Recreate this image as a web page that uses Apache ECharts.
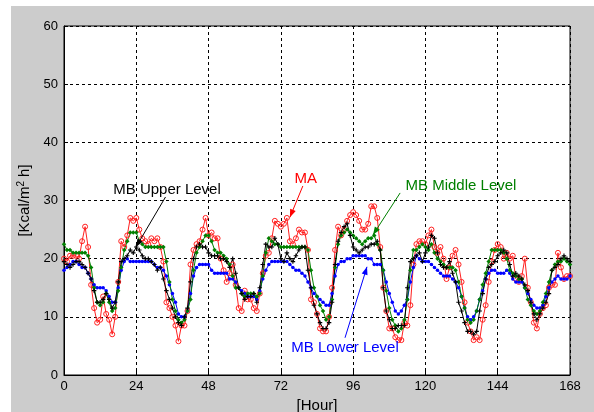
<!DOCTYPE html>
<html>
<head>
<meta charset="utf-8">
<script src="https://cdn.jsdelivr.net/npm/echarts@6/dist/echarts.min.js"></script>
<style>
  html, body { margin: 0; padding: 0; background: #fff; }
  #chart { width: 594px; height: 412px; }
</style>
</head>
<body>
<div id="chart"></div>
<script>
// Hourly heat flux over one week, one value per hour (0..168)
const hours = Array.from({ length: 169 }, (_, i) => i);
const xTicks = [0, 24, 48, 72, 96, 120, 144, 168];
const yTicks = [0, 10, 20, 30, 40, 50, 60];

const maValues = [
  20, 19.5, 20.5, 20.5, 20.5, 20, 23, 25.5, 22, 15.5,
  11.5, 9, 9.5, 13.5, 10.5, 9.5, 7, 10, 16, 23,
  22, 24, 27, 26.5, 27, 25, 23.5, 23, 22.5, 23.5,
  23, 23.5, 22, 19.5, 12.5, 11.5, 10, 8.5, 5.8, 8.5,
  8.5, 11, 19, 21.5, 22.5, 23, 25, 27, 24, 24.5,
  23.5, 23.5, 20, 18, 16, 17.5, 19, 15.5, 11.5, 11,
  14.5, 13, 13, 11.5, 11, 14, 17.5, 20.5, 21, 23.5,
  26.5, 26, 25.5, 26, 27, 23, 22.5, 23.5, 25, 24.5,
  24.5, 21.5, 13, 12.5, 10.5, 8, 7.5, 7.5, 10, 15,
  21.5, 25.5, 24, 25, 26.5, 27.5, 28, 27.5, 26.5, 25,
  25, 26, 29, 29, 27, 22, 15, 11, 8, 8,
  6.5, 6, 6, 9, 8.5, 12, 19, 22.5, 23, 23,
  22.5, 24, 25, 22, 21, 22, 20, 16.5, 18.5, 20.5,
  21.5, 19, 16, 12.5, 9, 7.5, 6, 6.5, 6, 9.5,
  12, 16, 19.5, 21.5, 22.5, 22, 20, 21, 20, 20.5,
  16.5, 16, 17, 20, 15, 12.5, 9, 8, 10.5, 11.5,
  12, 15, 15.5, 15.5, 21, 18.5, 16.5, 17, 17
];

const upperValues = [
  19.5, 19, 18.5, 19, 19.5, 19.5, 19, 18.5, 17.5, 16.5,
  14.5, 12.5, 12.5, 13, 14, 13, 11.5, 12.5, 16, 19.5,
  20, 20.5, 21.5, 21, 22, 21.5, 20.5, 20, 20, 19.5,
  19, 18, 18.5, 16.5, 14.5, 13, 11.5, 10, 9, 8.5,
  10, 11.5, 16, 20, 22, 22.5, 22, 22, 21, 20.5,
  20.5, 20.5, 20, 20, 19.5, 18.5, 20, 17.5, 15, 14,
  13, 13.5, 13.5, 14, 12.5, 15, 19, 22.5, 22, 22,
  23.5, 22.5, 20, 19.5, 21, 20, 19.5, 20.5, 21.5, 22,
  22, 18, 15, 12, 10.5, 9, 8, 8, 9, 12.5,
  19, 23, 24.5, 25.5, 26, 24, 22, 21.5, 21, 21.5,
  22, 22, 22.5, 22.5, 23, 21.5, 15, 11, 9.5, 8,
  8, 8.5, 8.5, 8.5, 15, 19.5, 20, 20.5, 21, 19.5,
  21, 22, 24, 23.5, 21, 19, 18.5, 18.5, 19.5, 17.5,
  16, 12.5, 11, 9, 7.5, 7.5, 7, 7.5, 11, 14,
  16.5, 18.5, 19, 19.5, 20.5, 21, 21.5, 21, 19, 17,
  17.5, 17, 16.5, 15.5, 14.5, 12.5, 10.5, 9.5, 10.5, 11.5,
  12.5, 14, 18, 18.5, 19, 20, 20.5, 20, 19.5
];

const middleValues = [
  22.5, 21.5, 21.5, 21, 21, 21, 21, 21, 20.5, 18.5,
  15, 12.5, 12, 12.5, 14, 12.5, 11, 11.5, 14.5, 18.5,
  21.5, 23, 24.5, 24.5, 24.5, 23, 22.5, 22, 22, 22,
  22, 22, 22, 22, 19.5, 16, 13, 11, 9.5, 9,
  9.5, 11, 13, 18, 21, 22, 23, 24, 24, 23,
  21.5, 21, 21, 20.5, 20, 19, 17, 15, 15, 14,
  13.5, 14, 14, 14, 13.5, 14, 17, 21, 23.5, 23,
  22.5, 22.5, 22, 22, 22, 22, 22, 22, 22, 22,
  22, 21.5, 18, 15, 13.5, 12, 11, 9.5, 10, 13,
  18.5, 22.5, 24, 24.5, 25, 24.5, 24, 23.5, 23, 22.5,
  23, 23.5, 23.5, 24, 22.5, 21.5, 18, 14.5, 11.5, 9.5,
  8.5, 7.5, 8, 9.5, 13, 18, 21.5, 21.5, 22, 22.5,
  22, 21.5, 22.5, 21, 20, 19.5, 19, 18.5, 18.5, 18.5,
  18, 16, 13.5, 11.5, 9.5, 9, 9.5, 11, 13, 15.5,
  17.5, 19.5, 21.5, 21.5, 21.5, 21.5, 21, 20, 18, 17.5,
  17, 16.5, 16.5, 15, 13, 12, 11, 10.5, 11, 12.5,
  14, 16, 18, 19, 19.5, 19.5, 20, 19.5, 19
];

const lowerValues = [
  18, 18.5, 19, 19.5, 19.5, 19, 18.5, 18.5, 17.5, 16.5,
  15.5, 15, 15, 15, 14.5, 13.5, 12.5, 12.5, 15, 18,
  19.5, 20, 19.5, 19.5, 19.5, 19.5, 19.5, 19.5, 19.5, 19.5,
  19, 18.5, 18.5, 18, 17, 15.5, 14, 12.5, 10.5, 10,
  10, 11, 14, 17, 18.5, 19, 19, 19, 19, 18,
  17.5, 17.5, 17.5, 17.5, 17.5, 16.5, 16.5, 16, 15, 14.5,
  14, 13.5, 13.5, 13.5, 13, 14.5, 16.5, 18, 19, 19.5,
  19.5, 19.5, 19.5, 19.5, 19.5, 19, 18.5, 18, 18, 17.5,
  17, 16, 15, 14, 13.5, 13, 12.5, 12, 12, 14,
  17, 19, 19.5, 19.5, 20, 20, 20.5, 20.5, 20.5, 20.5,
  20.5, 20, 20, 19, 19, 19, 18, 16, 14, 12.5,
  11, 10.5, 11, 12, 13, 16, 18.5, 20.5, 20, 19.5,
  19.5, 19.5, 19, 18.5, 18, 17.5, 17, 17, 17, 16.5,
  16, 15, 13.5, 11.5, 10, 9.5, 10, 11, 13, 14.5,
  16.5, 17.5, 18, 18, 17.5, 17.5, 17.5, 18, 17.5, 16.5,
  16, 16, 16, 15, 14, 13, 12, 11.5, 11.5, 12,
  13.5, 15, 16, 16.5, 17, 16.5, 16.5, 16.5, 17
];

// Labels with arrows, placed in data coordinates: [text, colour, textX, textY, tailX, tailY, headX, headY]
const notes = [
  ['MB Upper Level', '#000000', 34.2, 31.8, 33.7, 30.6, 23.9, 22.0],
  ['MA', '#ff0000', 80.3, 33.8, 79.3, 32.5, 75.0, 27.1],
  ['MB Middle Level', '#008000', 131.8, 32.5, 111.6, 31.3, 102.6, 24.1],
  ['MB Lower Level', '#0000ff', 93.3, 4.6, 93.3, 6.4, 100.6, 18.6]
];

const FONT = '"Liberation Sans", Arial, sans-serif';
const pairs = vals => hours.map((h, i) => [h, vals[i]]);

const chart = echarts.init(document.getElementById('chart'), null, { renderer: 'canvas' });

function lineSeries(name, vals, color, symbol, size, hollow) {
  return {
    name, type: 'line', data: pairs(vals),
    symbol, symbolSize: size, showSymbol: true, showAllSymbol: true,
    lineStyle: { color, width: 1 },
    itemStyle: hollow
      ? { color: 'rgba(255,255,255,0)', borderColor: color, borderWidth: 1 }
      : { color, borderWidth: 0 },
    emphasis: { disabled: true },
    animation: false
  };
}

const plusPath = 'path://M3,0H5V3H8V5H5V8H3V5H0V3H3Z';

chart.setOption({
  animation: false,
  backgroundColor: '#ffffff',
  grid: {
    left: 64, top: 26, right: 24, bottom: 37,
    outerBoundsMode: 'none', containLabel: false,
    show: true, backgroundColor: '#ffffff', borderColor: '#000', borderWidth: 1
  },
  xAxis: {
    type: 'value', min: 0, max: 168, interval: 24,
    name: '[Hour]', nameLocation: 'middle', nameGap: 19,
    nameTextStyle: { fontFamily: FONT, fontSize: 15, color: '#000' },
    axisLine: { lineStyle: { color: '#000' } },
    axisTick: { inside: true, length: 4, lineStyle: { color: '#000' } },
    axisLabel: { fontFamily: FONT, fontSize: 13, color: '#000', margin: 5 },
    splitLine: { show: true, lineStyle: { color: '#000', type: [3, 3], width: 1 } }
  },
  yAxis: {
    type: 'value', min: 0, max: 60, interval: 10,
    name: '{a|[Kcal/m}{s|2}{a| h]}', nameLocation: 'middle', nameGap: 27, nameRotate: 90,
    nameTextStyle: {
      rich: {
        a: { fontFamily: FONT, fontSize: 15, color: '#000' },
        s: { fontFamily: FONT, fontSize: 10, color: '#000', verticalAlign: 'top', padding: [0, 0, 8, 0] }
      }
    },
    axisLine: { lineStyle: { color: '#000' } },
    axisTick: { inside: true, length: 4, lineStyle: { color: '#000' } },
    axisLabel: { fontFamily: FONT, fontSize: 13, color: '#000', margin: 6 },
    splitLine: { show: true, lineStyle: { color: '#000', type: [3, 3], width: 1 } }
  },
  series: [
    lineSeries('MA', maValues, '#ff2020', 'circle', 5, true),
    lineSeries('MB Lower Level', lowerValues, '#0000ff', 'circle', 3.5, false),
    lineSeries('MB Middle Level', middleValues, '#008000', 'diamond', 4.5, false),
    lineSeries('MB Upper Level', upperValues, '#000000', plusPath, 4.5, false)
  ]
});

// Page backdrop and annotation arrows
const graphics = [{
  type: 'rect', z: -100, silent: true,
  shape: { x: 11, y: 6, width: 594, height: 412 },
  style: { fill: '#cccccc' }
}];

notes.forEach(([text, color, tx, ty, ax, ay, bx, by]) => {
  const t = chart.convertToPixel({ gridIndex: 0 }, [tx, ty]);
  const a = chart.convertToPixel({ gridIndex: 0 }, [ax, ay]);
  const b = chart.convertToPixel({ gridIndex: 0 }, [bx, by]);
  graphics.push({
    type: 'text', z: 200, x: t[0], y: t[1],
    style: { text, fill: color, font: '15px ' + FONT, textAlign: 'center', textVerticalAlign: 'middle' }
  });
  graphics.push({
    type: 'line', z: 200,
    shape: { x1: a[0], y1: a[1], x2: b[0], y2: b[1] },
    style: { stroke: color, lineWidth: 1 }
  });
  const ang = Math.atan2(b[1] - a[1], b[0] - a[0]);
  const L = 8, W = 3;
  const bx0 = b[0] - L * Math.cos(ang), by0 = b[1] - L * Math.sin(ang);
  graphics.push({
    type: 'polygon', z: 200,
    shape: { points: [
      [b[0], b[1]],
      [bx0 + W * Math.sin(ang), by0 - W * Math.cos(ang)],
      [bx0 - W * Math.sin(ang), by0 + W * Math.cos(ang)]
    ] },
    style: { fill: color }
  });
});

chart.setOption({ graphic: graphics });
</script>
</body>
</html>
